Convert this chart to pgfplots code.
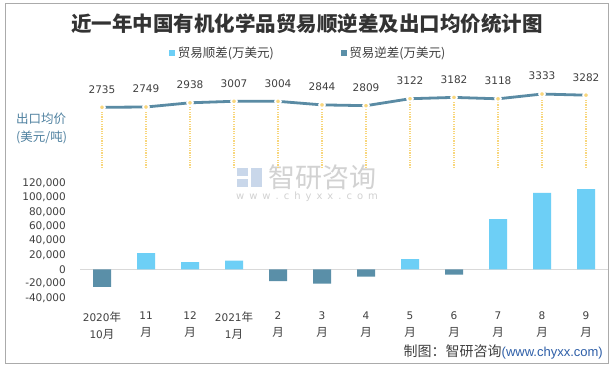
\documentclass[border=0pt]{standalone}
\usepackage{pgfplots}
\pgfplotsset{compat=1.18}
\usepackage{fontspec}
\setmainfont{DejaVu Sans}
\newfontfamily\cjk{Noto Sans CJK SC}
\newfontfamily\lib{Liberation Sans}
\definecolor{cpos}{HTML}{6DCFF6}
\definecolor{cneg}{HTML}{5A8FA8}
\definecolor{linec}{HTML}{5A8BA4}
\definecolor{dotc}{HTML}{F8D67C}
\definecolor{txt}{HTML}{404040}
\definecolor{titlec}{HTML}{333333}
\definecolor{lab}{HTML}{4F81A0}
\definecolor{framec}{HTML}{ABABAB}
\definecolor{wm}{HTML}{D2D2D2}
\definecolor{wmb}{HTML}{C9D7EA}
\definecolor{url}{HTML}{2E5FA8}
\definecolor{zero}{HTML}{D9D9D9}
\newcommand\cj[1]{{\cjk\fontsize{11.5bp}{17bp}\selectfont #1}}
\newcommand\g{\hspace{5bp}}
\pgfplotstableread{
x price
0 2735
1 2749
2 2938
3 3007
4 3004
5 2844
6 2809
7 3122
8 3182
9 3118
10 3333
11 3282
}\pricetab
\pgfplotstableread{
x v
1 22750
2 10200
3 12000
7 14400
9 70200
10 106500
11 112000
}\postab
\pgfplotstableread{
x v
0 -24300
4 -16300
5 -20000
6 -10300
8 -7500
}\negtab
\begin{document}
\begin{tikzpicture}[x=1bp,y=1bp]
\fill[white] (0,0) rectangle (614,-369);
\draw[color=framec, line width=0.9bp] (5,-3) rectangle (608,-363);
\node[font=\cjk\bfseries\fontsize{20.5bp}{21bp}\selectfont, color=titlec] at (307,-24) {近一年中国有机化学品贸易顺逆差及出口均价统计图};
% watermark
\fill[wmb] (237,-168) rectangle (248,-176);
\fill[wmb] (237,-179) rectangle (248,-187);
\fill[wmb] (251,-168) rectangle (262,-187);
\node[font=\cjk\fontsize{27bp}{27bp}\selectfont, color=wm] at (322,-177) {智研咨询};
\node[font=\fontsize{10bp}{10bp}\selectfont, color=wm] at (307,-197) {w\g w\g w\g .\g c\g h\g y\g x\g x\g .\g c\g o\g m};
% left label
\node[anchor=west, inner sep=0pt, font=\cjk\fontsize{12.5bp}{15bp}\selectfont, color=lab] at (16,-119) {出口均价};
\node[anchor=west, inner sep=0pt, font=\cjk\fontsize{12.5bp}{15bp}\selectfont, color=lab] at (16,-137) {(美元/吨)};
% source
\node[anchor=east, inner sep=0pt, color=txt] at (603,-352) {{\cjk\fontsize{14bp}{14bp}\selectfont 制图：智研咨询}{\lib\fontsize{13bp}{14bp}\selectfont\color{url}(www.chyxx.com)}};
% lower axis (bars)
\begin{axis}[
  at={(80bp,-298bp)}, anchor=south west,
  scale only axis, width=528bp, height=114.7bp,
  xmin=-0.5, xmax=11.5, ymin=-40000, ymax=120000,
  axis line style={draw=none}, tick style={draw=none}, major tick length=0pt,
  ytick={-40000,-20000,0,20000,40000,60000,80000,100000,120000},
  scaled y ticks=false,
  /pgf/number format/.cd, fixed, precision=0, 1000 sep={,}, assume math mode=true, /pgfplots/.cd,
  yticklabel style={font=\fontsize{10.5bp}{12bp}\selectfont, color=txt, anchor=east, inner sep=0pt, xshift=-14bp},
  xtick={0,...,11},
  xticklabels={{2020\cj{年}\\10\cj{月}},{11\\\cj{月}},{12\\\cj{月}},{2021\cj{年}\\1\cj{月}},{2\\\cj{月}},{3\\\cj{月}},{4\\\cj{月}},{5\\\cj{月}},{6\\\cj{月}},{7\\\cj{月}},{8\\\cj{月}},{9\\\cj{月}}},
  xticklabel style={font=\fontsize{10.5bp}{17bp}\selectfont, color=txt, align=center, anchor=north, inner sep=0pt, yshift=-13.5bp},
  legend style={draw=none, fill=none, legend columns=2, at={(0.169,2.136)}, anchor=west, inner sep=0pt,
    nodes={inner xsep=2.5bp, inner ysep=0pt}, font=\cjk\fontsize{12.5bp}{14bp}\selectfont, text=txt,
    /tikz/every even column/.append style={column sep=64.5bp}},
  clip=false,
]
\draw[color=zero, line width=1bp] (axis cs:-0.5,0) -- (axis cs:11.5,0);
\addplot[ybar, bar width=18bp, bar shift=0pt, fill=cpos, draw=none,
  legend image code/.code={\fill[cpos] (0bp,-3bp) rectangle (6bp,3bp);}] table[x=x,y=v] {\postab};
\addlegendentry{贸易顺差(万美元)}
\addplot[ybar, bar width=18bp, bar shift=0pt, fill=cneg, draw=none,
  legend image code/.code={\fill[cneg] (0bp,-3bp) rectangle (6bp,3bp);}] table[x=x,y=v] {\negtab};
\addlegendentry{贸易逆差(万美元)}
\end{axis}
% upper axis (price line)
\begin{axis}[
  at={(80bp,-168bp)}, anchor=south west,
  scale only axis, width=528bp, height=83bp,
  xmin=-0.5, xmax=11.5, ymin=0, ymax=3740,
  hide axis, clip=false,
  /pgf/number format/.cd, fixed, precision=0, 1000 sep={}, assume math mode=true, /pgfplots/.cd,
]
\addplot[ycomb, color=dotc, line width=1.2bp, dash pattern=on 1.2bp off 1.2bp, mark=none] table[x=x,y=price] {\pricetab};
\addplot[color=linec, line width=2.8bp, mark=none] table[x=x,y=price] {\pricetab};
\addplot[only marks, color=dotc, mark=*, mark size=2.9bp, mark options={fill=dotc, draw=white, line width=1.8bp},
  nodes near coords, every node near coord/.append style={anchor=south, inner sep=0pt, yshift=13bp, color=txt, font=\fontsize{10.5bp}{12bp}\selectfont}]
  table[x=x,y=price] {\pricetab};
\end{axis}
\end{tikzpicture}
\end{document}
